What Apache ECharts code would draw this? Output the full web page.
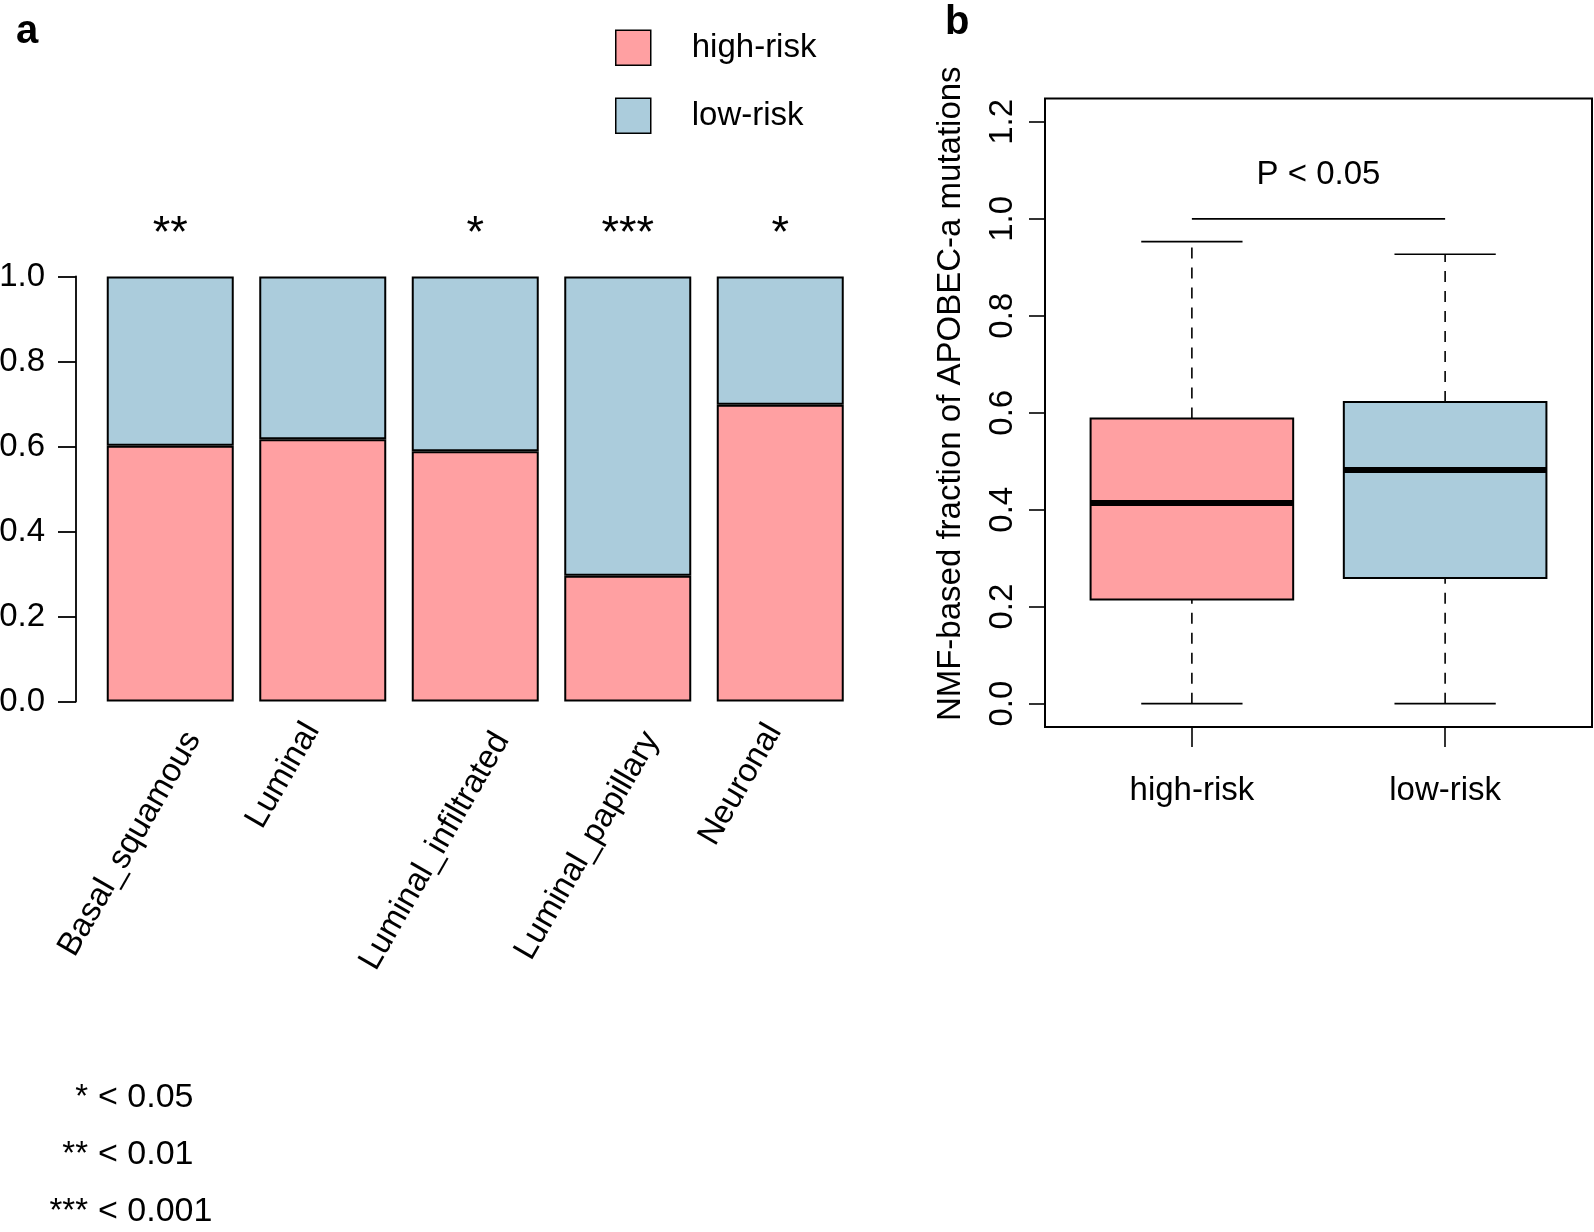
<!DOCTYPE html>
<html lang="en">
<head>
<meta charset="UTF-8">
<title>Risk groups and APOBEC-a fraction</title>
<script src="https://cdn.jsdelivr.net/npm/echarts@6/dist/echarts.min.js"></script>
<style>
    html, body { margin: 0; padding: 0; background: #fff; }
    #chart { width: 1594px; height: 1232px; }
</style>
</head>
<body>
<div id="chart"></div>
<script>
    // panel a: share of high / low risk per subtype
    var subtypes = ['Basal_squamous', 'Luminal', 'Luminal_infiltrated', 'Luminal_papillary', 'Neuronal'];
    var highShare = [0.602, 0.617, 0.589, 0.296, 0.698];
    var lowShare = [0.398, 0.383, 0.411, 0.704, 0.302];
    var stars = ['**', '', '*', '***', '*'];

    // panel b: box stats per group, [min, q1, median, q3, max]
    var groups = ['high-risk', 'low-risk'];
    var boxStats = [
        [0.0, 0.215, 0.414, 0.588, 0.953],
        [0.0, 0.259, 0.482, 0.622, 0.927]
    ];
    var fracTicks = [0, 0.2, 0.4, 0.6, 0.8, 1.0, 1.2];
    var bracketY = 1.0;
    var pText = 'P < 0.05';
    var pTextY = 1.09;

    // significance key
    var sigSymbols = ['*', '**', '***'];
    var sigCutoffs = ['< 0.05', '< 0.01', '< 0.001'];

    var PINK = '#FFA0A2';
    var BLUE = '#ABCCDC';
    var FONT = '"Liberation Sans", Arial, sans-serif';
    var groupColors = [PINK, BLUE];

    // the rotated subtype labels in the original drift with their length,
    // so nudge each one by its measured width
    var measureCtx = document.createElement('canvas').getContext('2d');
    measureCtx.font = '33px ' + FONT;
    function subtypeLabelStyle(name) {
        var em = measureCtx.measureText(name).width / 33;
        var top = Math.max(0, 8.06 * (em - 3.425));
        var right = Math.max(0, 52 - 2.2 * (em - 3.5));
        return {
            fontSize: 33,
            fontFamily: FONT,
            lineHeight: 34,
            color: '#000',
            align: 'right',
            verticalAlign: 'top',
            padding: [top, right, 0, 0]
        };
    }

    function renderBox(params, api) {
        var x = api.value(0);
        var half = api.size([0.4, 0])[0];
        var cx = api.coord([x, 0])[0];
        var yMin = api.coord([x, api.value(1)])[1];
        var yQ1 = api.coord([x, api.value(2)])[1];
        var yMed = api.coord([x, api.value(3)])[1];
        var yQ3 = api.coord([x, api.value(4)])[1];
        var yMax = api.coord([x, api.value(5)])[1];
        var solid = { stroke: '#000', lineWidth: 1.6 };
        var dashed = { stroke: '#000', lineWidth: 1.6, lineDash: [11, 9] };
        return {
            type: 'group',
            children: [
                { type: 'line', shape: { x1: cx, y1: yMin, x2: cx, y2: yQ1 }, style: dashed },
                { type: 'line', shape: { x1: cx, y1: yQ3, x2: cx, y2: yMax }, style: dashed },
                { type: 'line', shape: { x1: cx - half / 2, y1: yMin, x2: cx + half / 2, y2: yMin }, style: solid },
                { type: 'line', shape: { x1: cx - half / 2, y1: yMax, x2: cx + half / 2, y2: yMax }, style: solid },
                {
                    type: 'rect',
                    shape: { x: cx - half, y: yQ3, width: half * 2, height: yQ1 - yQ3 },
                    style: { fill: groupColors[params.dataIndex], stroke: '#000', lineWidth: 2 }
                },
                { type: 'line', shape: { x1: cx - half, y1: yMed, x2: cx + half, y2: yMed }, style: { stroke: '#000', lineWidth: 6 } }
            ]
        };
    }

    function renderPText(params, api) {
        var p = api.coord([api.value(0), api.value(1)]);
        return {
            type: 'text',
            x: p[0],
            y: p[1],
            style: { text: pText, font: '33px ' + FONT, fill: '#000', align: 'center', verticalAlign: 'middle' }
        };
    }

    var graphics = [
        { type: 'text', x: 16, y: 32, style: { text: 'a', font: 'bold 40px ' + FONT, fill: '#000', verticalAlign: 'middle' } },
        { type: 'text', x: 945, y: 23, style: { text: 'b', font: 'bold 40px ' + FONT, fill: '#000', verticalAlign: 'middle' } }
    ];
    sigSymbols.forEach(function (s, i) {
        var y = 1097.5 + i * 57;
        graphics.push({ type: 'text', x: 88, y: y, style: { text: s, font: '33px ' + FONT, fill: '#000', align: 'right', verticalAlign: 'middle' } });
        graphics.push({ type: 'text', x: 98, y: y, style: { text: sigCutoffs[i], font: '34px ' + FONT, fill: '#000', align: 'left', verticalAlign: 'middle' } });
    });

    var chart = echarts.init(document.getElementById('chart'));
    chart.setOption({
        animation: false,
        textStyle: { fontFamily: FONT, color: '#000' },
        graphic: graphics,
        legend: {
            data: ['high-risk', 'low-risk'],
            orient: 'vertical',
            left: 615,
            top: 29.5,
            padding: 0,
            itemWidth: 35,
            itemHeight: 35,
            itemGap: 31.5,
            icon: 'rect',
            itemStyle: { borderColor: '#000', borderWidth: 1.5 },
            textStyle: { fontSize: 33, color: '#000', fontFamily: FONT, padding: [10, 0, 0, 36] }
        },
        grid: [
            { left: 94, top: 276.5, width: 762.5, height: 425, outerBoundsMode: 'none', containLabel: false },
            {
                left: 1045, top: 98.6, width: 547, height: 628.3, outerBoundsMode: 'none', containLabel: false,
                show: true, borderColor: '#000', borderWidth: 2, backgroundColor: 'transparent'
            }
        ],
        xAxis: [
            {
                type: 'category',
                gridIndex: 0,
                data: subtypes.map(function (name) {
                    return { value: name, textStyle: subtypeLabelStyle(name) };
                }),
                axisLine: { show: false },
                axisTick: { show: false },
                axisLabel: {
                    rotate: 60,
                    interval: 0,
                    margin: -30,
                    fontSize: 33,
                    lineHeight: 34,
                    color: '#000',
                    align: 'right',
                    verticalAlign: 'top'
                }
            },
            {
                type: 'value',
                gridIndex: 1,
                min: 0.42,
                max: 2.58,
                splitLine: { show: false },
                axisLine: { show: false, onZero: false },
                axisTick: { show: true, customValues: [1, 2], length: 20, lineStyle: { color: '#000', width: 1.6 } },
                axisLabel: {
                    customValues: [1, 2],
                    margin: 48,
                    fontSize: 33,
                    color: '#000',
                    formatter: function (v) { return groups[Math.round(v) - 1]; }
                }
            }
        ],
        yAxis: [
            {
                type: 'value',
                gridIndex: 0,
                min: 0,
                max: 1,
                interval: 0.2,
                offset: 18,
                splitLine: { show: false },
                axisLine: { show: true, lineStyle: { color: '#000', width: 1.8 } },
                axisTick: { show: true, length: 18, lineStyle: { color: '#000', width: 1.8 } },
                axisLabel: {
                    margin: 31,
                    fontSize: 33,
                    color: '#000',
                    formatter: function (v) { return v.toFixed(1); }
                }
            },
            {
                type: 'value',
                gridIndex: 1,
                min: -0.048,
                max: 1.248,
                splitLine: { show: false },
                axisLine: { show: false, onZero: false },
                axisTick: { show: true, customValues: fracTicks, length: 16, lineStyle: { color: '#000', width: 1.6 } },
                axisLabel: {
                    customValues: fracTicks,
                    rotate: 90,
                    margin: 26,
                    fontSize: 33,
                    color: '#000',
                    align: 'center',
                    verticalAlign: 'bottom',
                    formatter: function (v) { return v.toFixed(1); }
                },
                name: 'NMF-based fraction of APOBEC-a mutations',
                nameLocation: 'middle',
                nameGap: 78,
                nameTextStyle: { fontSize: 33, color: '#000', padding: [0, 0, 0, 38] }
            }
        ],
        series: [
            {
                name: 'high-risk',
                type: 'bar',
                stack: 'share',
                xAxisIndex: 0,
                yAxisIndex: 0,
                barWidth: 127,
                data: highShare,
                itemStyle: { color: PINK, borderColor: '#000', borderWidth: 2 }
            },
            {
                name: 'low-risk',
                type: 'bar',
                stack: 'share',
                xAxisIndex: 0,
                yAxisIndex: 0,
                barWidth: 127,
                data: lowShare,
                itemStyle: { color: BLUE, borderColor: '#000', borderWidth: 2 },
                label: {
                    show: true,
                    position: 'top',
                    distance: 19,
                    fontSize: 45,
                    lineHeight: 45,
                    color: '#000',
                    formatter: function (p) { return stars[p.dataIndex]; }
                }
            },
            {
                name: 'fraction',
                type: 'custom',
                xAxisIndex: 1,
                yAxisIndex: 1,
                renderItem: renderBox,
                encode: { x: 0, y: [1, 2, 3, 4, 5] },
                data: boxStats.map(function (s, i) { return [i + 1].concat(s); })
            },
            {
                name: 'bracket',
                type: 'line',
                xAxisIndex: 1,
                yAxisIndex: 1,
                symbol: 'none',
                silent: true,
                lineStyle: { color: '#000', width: 1.6 },
                data: [[1, bracketY], [2, bracketY]]
            },
            {
                name: 'pvalue',
                type: 'custom',
                xAxisIndex: 1,
                yAxisIndex: 1,
                silent: true,
                renderItem: renderPText,
                data: [[1.5, pTextY]]
            }
        ]
    });
</script>
</body>
</html>
